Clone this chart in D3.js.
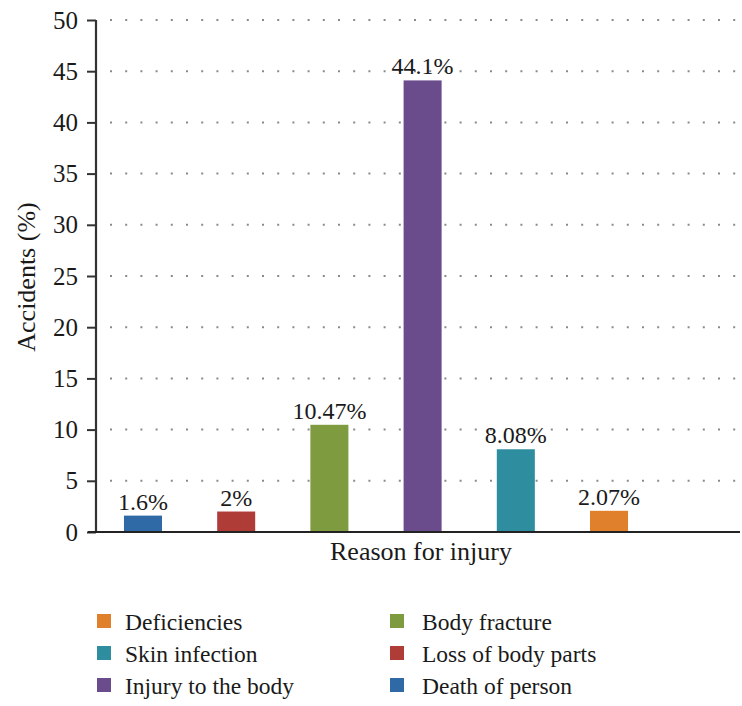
<!DOCTYPE html>
<html>
<head>
<meta charset="utf-8">
<script src="https://cdn.jsdelivr.net/npm/d3@7"></script>
<style>
  body { margin: 0; background: #fff; }
  svg text { font-family: "Liberation Serif", "Times New Roman", serif; fill: #1a1a1a; }
</style>
</head>
<body>
<svg width="742" height="706"></svg>
<script>
// data
var categories = ["Death of person", "Loss of body parts", "Body fracture", "Injury to the body", "Skin infection", "Deficiencies"];
var values = [1.6, 2, 10.47, 44.1, 8.08, 2.07];
var valueLabels = ["1.6%", "2%", "10.47%", "44.1%", "8.08%", "2.07%"];
var colors = ["#2f6aa6", "#b03c38", "#7e9b40", "#6a4c8c", "#2e8d9e", "#e07f2c"];
var yTicks = [0, 5, 10, 15, 20, 25, 30, 35, 40, 45, 50];
// legend layout: left column then right column
var legendLeft = ["Deficiencies", "Skin infection", "Injury to the body"];
var legendRight = ["Body fracture", "Loss of body parts", "Death of person"];

var svg = d3.select("svg");

var y = d3.scaleLinear().domain([0, 50]).range([532, 20]);
var x = d3.scaleBand()
    .domain(categories)
    .range([96, 656])
    .paddingInner(0.592)
    .paddingOuter(0.3);

var color = d3.scaleOrdinal().domain(categories).range(colors);

// dotted grid lines
svg.append("g")
  .selectAll("line")
  .data(yTicks.filter(function(d) { return d > 0; }))
  .enter().append("line")
    .attr("x1", 110).attr("x2", 740)
    .attr("y1", function(d) { return y(d); })
    .attr("y2", function(d) { return y(d); })
    .attr("stroke", "#8a8a8a")
    .attr("stroke-width", 2)
    .attr("stroke-dasharray", "2 13.2");

// bars
svg.append("g")
  .selectAll("rect")
  .data(categories)
  .enter().append("rect")
    .attr("x", function(d) { return x(d); })
    .attr("width", x.bandwidth())
    .attr("y", function(d, i) { return y(values[i]); })
    .attr("height", function(d, i) { return y(0) - y(values[i]); })
    .attr("fill", function(d) { return color(d); });

// value labels
svg.append("g")
  .selectAll("text")
  .data(categories)
  .enter().append("text")
    .attr("x", function(d) { return x(d) + x.bandwidth() / 2; })
    .attr("y", function(d, i) { return y(values[i]) - 6; })
    .attr("text-anchor", "middle")
    .attr("font-size", 24)
    .text(function(d, i) { return valueLabels[i]; });

// y axis
var yAxis = d3.axisLeft(y).tickValues(yTicks).tickSize(9).tickPadding(9);
var gy = svg.append("g")
    .attr("transform", "translate(96,0)")
    .call(yAxis);
gy.select(".domain").remove();
gy.selectAll(".tick line").attr("stroke", "#333").attr("stroke-width", 2);
gy.selectAll(".tick text")
    .attr("font-size", 25);

svg.append("line")
    .attr("x1", 96).attr("x2", 96)
    .attr("y1", y(50)).attr("y2", y(0) + 1)
    .attr("stroke", "#333").attr("stroke-width", 2.2);
svg.append("line")
    .attr("x1", 88).attr("x2", 740)
    .attr("y1", y(0)).attr("y2", y(0))
    .attr("stroke", "#222").attr("stroke-width", 2.2);

// axis titles
svg.append("text")
    .attr("x", 421).attr("y", 560)
    .attr("text-anchor", "middle")
    .attr("font-size", 26)
    .text("Reason for injury");

svg.append("text")
    .attr("transform", "translate(35,277) rotate(-90)")
    .attr("text-anchor", "middle")
    .attr("font-size", 26)
    .text("Accidents (%)");

// legend
function drawLegend(items, sx, tx) {
  var g = svg.append("g");
  var rows = g.selectAll("g")
    .data(items)
    .enter().append("g")
      .attr("transform", function(d, i) { return "translate(0," + (622 + i * 32) + ")"; });
  rows.append("rect")
    .attr("x", sx).attr("y", -8)
    .attr("width", 14).attr("height", 14)
    .attr("fill", function(d) { return color(d); });
  rows.append("text")
    .attr("x", tx).attr("y", 8)
    .attr("font-size", 23.5)
    .text(function(d) { return d; });
}
drawLegend(legendLeft, 97, 125);
drawLegend(legendRight, 390, 422);
</script>
</body>
</html>
